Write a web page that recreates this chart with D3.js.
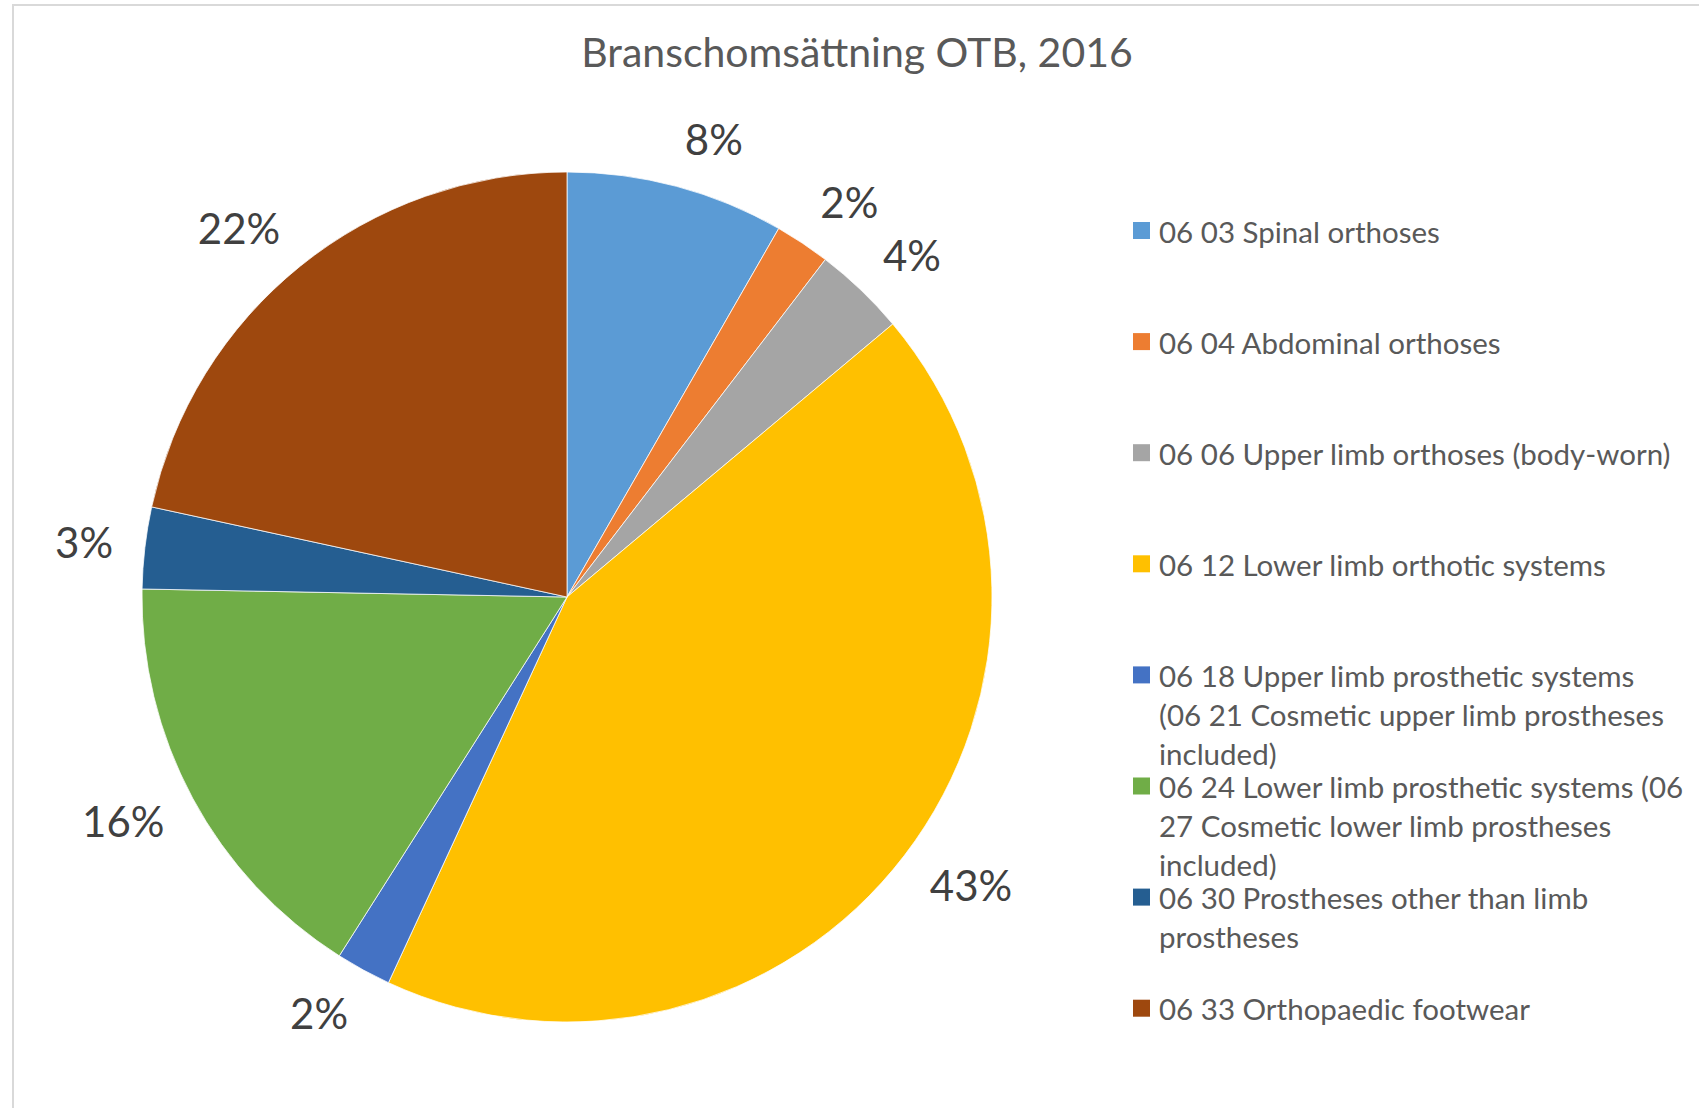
<!DOCTYPE html>
<html>
<head>
<meta charset="utf-8">
<script src="https://cdn.jsdelivr.net/npm/d3@7"></script>
<style>
  body { margin: 0; background: #fff; }
  svg { display: block; font-family: Lato, "Open Sans", sans-serif; }
</style>
</head>
<body>
<svg id="chart"></svg>
<script>
// ================= DATA =================
const categories = [
  "06 03 Spinal orthoses",
  "06 04 Abdominal orthoses",
  "06 06 Upper limb orthoses (body-worn)",
  "06 12 Lower limb orthotic systems",
  "06 18 Upper limb prosthetic systems\n(06 21 Cosmetic upper limb prostheses\nincluded)",
  "06 24 Lower limb prosthetic systems (06\n27 Cosmetic lower limb prostheses\nincluded)",
  "06 30 Prostheses other than limb\nprostheses",
  "06 33 Orthopaedic footwear"
];
const shares = [8.3, 2.1, 3.5, 43.0, 2.1, 16.3, 3.1, 21.6];
const colors = ["#5b9bd5", "#ed7d31", "#a5a5a5", "#ffc000", "#4472c4", "#70ad47", "#255e91", "#9e480e"];
const title = "Branschomsättning OTB, 2016";

// ================= LAYOUT =================
var width = 1699, height = 1108;
var cx = 567, cy = 597, radius = 425;

var svg = d3.select("#chart").attr("width", width).attr("height", height);

// chart area frame
svg.append("rect")
  .attr("x", 13).attr("y", 5)
  .attr("width", width + 20).attr("height", height + 20)
  .attr("fill", "#fff")
  .attr("stroke", "#d9d9d9")
  .attr("stroke-width", 2);

svg.append("text")
  .attr("x", 857).attr("y", 67)
  .attr("text-anchor", "middle")
  .attr("fill", "#595959")
  .style("font-size", "41px")
  .text(title);

// ================= PIE =================
var total = d3.sum(shares);
var pie = d3.pie().sort(null).value(d => d);
var arc = d3.arc().innerRadius(0).outerRadius(radius);
var arcs = pie(shares);

var g = svg.append("g").attr("transform", "translate(" + cx + "," + cy + ")");

g.selectAll("path")
  .data(arcs)
  .enter()
  .append("path")
  .attr("d", arc)
  .attr("fill", (d, i) => colors[i])
  .attr("stroke", "#fff")
  .attr("stroke-width", 0.75);

// percentage labels, outside end (box pushed off the anchor point on the rim)
var anchorR = radius + 32, halfH = 17;
g.selectAll("text.pct")
  .data(arcs)
  .enter()
  .append("text")
  .attr("class", "pct")
  .attr("text-anchor", "middle")
  .attr("dominant-baseline", "central")
  .attr("fill", "#404040")
  .style("font-size", "42px")
  .text(d => Math.round(d.value / total * 100) + "%")
  .each(function(d) {
    var a = (d.startAngle + d.endAngle) / 2;
    var w = this.getComputedTextLength();
    var s = Math.sin(a), c = Math.cos(a);
    var x = s * anchorR + Math.sign(s) * w / 2;
    var y = -c * anchorR - c * halfH;
    d3.select(this).attr("x", x).attr("y", y);
  });

// ================= LEGEND =================
var legendX = 1133, legendY = 231, rowStep = 111.1, lineH = 39;

var legend = svg.append("g")
  .selectAll("g")
  .data(categories)
  .enter()
  .append("g")
  .attr("transform", (d, i) => "translate(" + legendX + "," + (legendY + i * rowStep) + ")");

legend.append("rect")
  .attr("x", 0).attr("y", -9)
  .attr("width", 17).attr("height", 17)
  .attr("fill", (d, i) => colors[i]);

legend.append("text")
  .attr("fill", "#595959")
  .style("font-size", "29.5px")
  .each(function(d) {
    var t = d3.select(this);
    d.split("\n").forEach((line, j) => {
      t.append("tspan")
        .attr("x", 26)
        .attr("y", j * lineH)
        .attr("dominant-baseline", "central")
        .text(line);
    });
  });
</script>
</body>
</html>
